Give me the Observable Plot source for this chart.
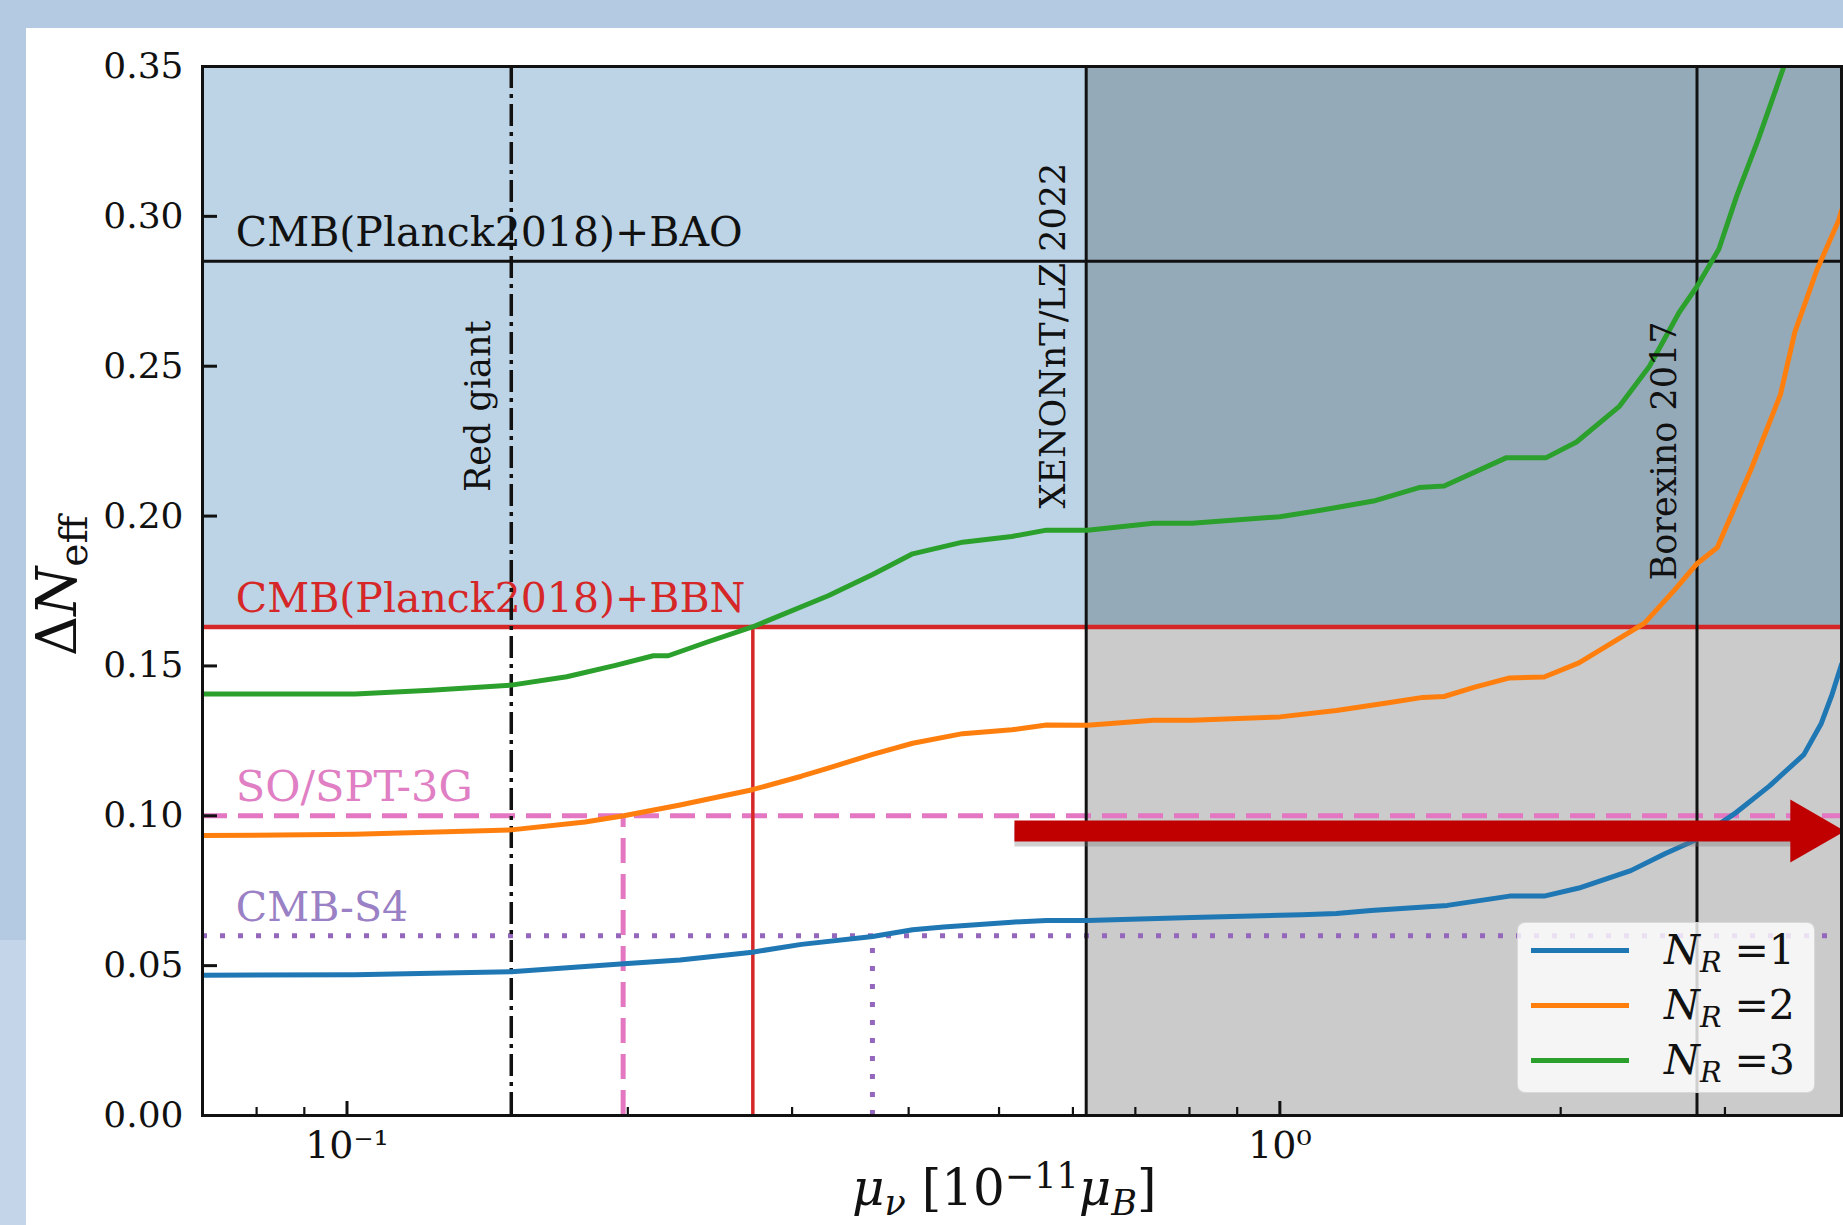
<!DOCTYPE html>
<html>
<head>
<meta charset="utf-8">
<script src="https://cdn.jsdelivr.net/npm/d3@7"></script>
<script src="https://cdn.jsdelivr.net/npm/@observablehq/plot@0.6"></script>
<style>
  html, body { margin:0; padding:0; }
  body { width:1843px; height:1225px; overflow:hidden; position:relative; background:#b4cae2; font-family:"DejaVu Serif", serif; }
  #stripLow { position:absolute; left:0; top:940px; width:26px; height:285px; background:#c4d5ea; }
  #card { position:absolute; left:26px; top:28px; width:1817px; height:1197px; background:#ffffff; }
  #chart { position:absolute; left:0; top:0; }
  #chart svg { display:block; overflow:visible; }
  .overlay { position:absolute; white-space:nowrap; color:#111; line-height:1; }
  #ylab { left:57px; top:586px; font-size:56px; transform: translate(-50%,-50%) rotate(-90deg); }
  #xlab { left:852px; top:1163px; font-size:50px; }
  sub { font-size:0.7em; vertical-align:-0.28em; line-height:0; }
  sup { font-size:0.7em; vertical-align:0.5em; line-height:0; }
  #legend { position:absolute; left:1517px; top:922px; width:298px; height:171px; background:rgba(255,255,255,0.8); border:1px solid rgba(210,210,210,0.8); border-radius:8px; box-sizing:border-box; }
  .row { position:absolute; left:0; width:298px; height:54px; }
  .sw { position:absolute; left:13px; top:24.5px; width:98px; height:5px; }
  .lab { position:absolute; left:146px; top:0; font-size:41px; line-height:54px; color:#111; white-space:nowrap; }
</style>
</head>
<body>
<div id="stripLow"></div>
<div id="card"></div>
<div id="chart"></div>
<div id="ylab" class="overlay">Δ<i>N</i><sub>eff</sub></div>
<div id="xlab" class="overlay"><i>μ</i><sub><i>ν</i></sub> [10<sup>−11</sup><i>μ</i><sub><i>B</i></sub>]</div>
<div id="legend"></div>
<script>
// ---------------- data ----------------
const series = ["N_R =1", "N_R =2", "N_R =3"];
const seriesNumber = ["1", "2", "3"];
const seriesColors = ["#1f77b4", "#ff7f0e", "#2ca02c"];

// N_R = 1 (blue)
const xN1 = [0.07, 0.102, 0.150, 0.198, 0.2275, 0.272, 0.307, 0.366, 0.404, 0.436, 0.516, 0.562, 0.622, 0.805, 1.0, 1.056, 1.15, 1.252, 1.512, 1.763, 1.92, 2.092, 2.378, 2.59, 2.797, 3.072, 3.347, 3.645, 3.805, 3.903, 4.0];
const yN1 = [0.0468, 0.0470, 0.0480, 0.0506, 0.0519, 0.0545, 0.0571, 0.0597, 0.0620, 0.0629, 0.0645, 0.0651, 0.0651, 0.0661, 0.0668, 0.0670, 0.0674, 0.0684, 0.0701, 0.0732, 0.0732, 0.0759, 0.0817, 0.0874, 0.0921, 0.1007, 0.1099, 0.1204, 0.1308, 0.1400, 0.1505];
// N_R = 2 (orange)
const xN2 = [0.07, 0.102, 0.150, 0.180, 0.198, 0.2275, 0.272, 0.307, 0.328, 0.366, 0.404, 0.457, 0.516, 0.562, 0.622, 0.732, 0.805, 1.0, 1.15, 1.307, 1.423, 1.50, 1.618, 1.763, 1.92, 2.092, 2.279, 2.46, 2.657, 2.797, 2.944, 3.201, 3.441, 3.565, 3.764, 3.973, 4.0];
const yN2 = [0.0934, 0.0938, 0.0953, 0.0979, 0.1000, 0.1036, 0.1087, 0.1132, 0.1159, 0.1205, 0.1242, 0.1274, 0.1287, 0.1303, 0.1302, 0.1319, 0.1319, 0.1330, 0.1351, 0.1377, 0.1395, 0.1398, 0.1429, 0.1460, 0.1463, 0.1510, 0.1580, 0.1643, 0.1758, 0.1840, 0.1895, 0.2157, 0.2406, 0.2614, 0.2821, 0.2987, 0.3020];
// N_R = 3 (green)
const xN3 = [0.07, 0.102, 0.123, 0.150, 0.172, 0.194, 0.213, 0.221, 0.243, 0.272, 0.328, 0.366, 0.404, 0.457, 0.516, 0.562, 0.622, 0.732, 0.805, 1.0, 1.11, 1.26, 1.41, 1.50, 1.75, 1.93, 2.08, 2.31, 2.49, 2.68, 2.80, 2.955, 3.09, 3.26, 3.47];
const yN3 = [0.1406, 0.1406, 0.1419, 0.1436, 0.1464, 0.1502, 0.1534, 0.1534, 0.1579, 0.1630, 0.1734, 0.1805, 0.1874, 0.1913, 0.1932, 0.1953, 0.1953, 0.1976, 0.1976, 0.1998, 0.2020, 0.2050, 0.2095, 0.2100, 0.2195, 0.2195, 0.2247, 0.2365, 0.2500, 0.2680, 0.2766, 0.2890, 0.3070, 0.3260, 0.3500];

const xDomain = [0.07, 4.0];
const yDomain = [0, 0.35];
const yTicks = [0, 0.05, 0.10, 0.15, 0.20, 0.25, 0.30, 0.35];
const xMajorTicks = [0.1, 1];
const xMajorLabels = ["10⁻¹", "10⁰"];
const xMinorTicks = [0.08, 0.09, 0.2, 0.3, 0.4, 0.5, 0.6, 0.7, 0.8, 0.9, 2, 3];

// laboratory / astrophysical bounds on mu_nu
const boundNames = ["Red giant", "XENONnT/LZ 2022", "Borexino 2017"];
const boundX = [0.15, 0.62, 2.8];
const boundLabelY = [0.208, 0.2025, 0.1785];

// cosmological Delta N_eff limits
const cosmoNames = ["CMB(Planck2018)+BAO", "CMB(Planck2018)+BBN", "SO/SPT-3G", "CMB-S4"];
const cosmoY = [0.285, 0.163, 0.10, 0.06];
const cosmoLabelX = 0.076;

// crossings: N_R=3 with BBN, N_R=2 with SO/SPT-3G, N_R=1 with CMB-S4
const crossX = [0.2723, 0.1977, 0.3658];
const crossY = [0.163, 0.10, 0.06];

// red annotation arrow (data units)
const arrowX = [0.52, 3.627];
const arrowHeadX = 3.687;
const arrowY = 0.0949;

// ---------------- styles ----------------
const cosmoStyles = [
  {stroke: "#111111", strokeWidth: 3, strokeDasharray: null},
  {stroke: "#d62728", strokeWidth: 4.5, strokeDasharray: null},
  {stroke: "#e377c2", strokeWidth: 5, strokeDasharray: "25 11"},
  {stroke: "#9467bd", strokeWidth: 5, strokeDasharray: "5 13"}
];
const cosmoLabelColors = ["#111111", "#d62728", "#e07fc4", "#9a80c4"];
const cosmoLabelSizes = [41, 41, 43, 41];
const crossStyles = [
  {stroke: "#d62728", strokeWidth: 3.5, strokeDasharray: null},
  {stroke: "#e377c2", strokeWidth: 5, strokeDasharray: "25 11"},
  {stroke: "#9467bd", strokeWidth: 5, strokeDasharray: "5 13"}
];

// ---------------- build ----------------
const xs = [xN1, xN2, xN3], ys = [yN1, yN2, yN3];
const rows = series.flatMap((s, i) => xs[i].map((x, j) => ({series: s, x, y: ys[i][j]})));
const boundRows = boundNames.map((name, i) => ({name, x: boundX[i], ly: boundLabelY[i]}));

const W = 1843, H = 1225, mL = 202, mR = 2, mT = 66, mB = 110;
const plotW = W - mL - mR, plotH = H - mT - mB;

const R = (x1, x2, y1, y2) => [{x1, x2, y1, y2}];
const marks = [
  Plot.rect(R(xDomain[0], boundX[1], cosmoY[1], yDomain[1]), {x1: "x1", x2: "x2", y1: "y1", y2: "y2", fill: "#bcd4e6"}),
  Plot.rect(R(boundX[1], xDomain[1], yDomain[0], cosmoY[1]), {x1: "x1", x2: "x2", y1: "y1", y2: "y2", fill: "#cbcbcb"}),
  Plot.rect(R(boundX[1], xDomain[1], cosmoY[1], yDomain[1]), {x1: "x1", x2: "x2", y1: "y1", y2: "y2", fill: "#95aab9"})
];

cosmoNames.forEach((name, i) => {
  marks.push(Plot.text([{x: cosmoLabelX, y: cosmoY[i], t: name}], {
    x: "x", y: "y", text: "t", fill: cosmoLabelColors[i], fontSize: cosmoLabelSizes[i],
    textAnchor: "start", lineAnchor: "bottom", dy: -15
  }));
});
cosmoNames.forEach((name, i) => {
  marks.push(Plot.ruleY([cosmoY[i]], cosmoStyles[i]));
});

marks.push(Plot.ruleX([boundX[0]], {stroke: "#111", strokeWidth: 3.5, strokeDasharray: "22 6 4 6"}));
marks.push(Plot.ruleX(boundX.slice(1), {stroke: "#111", strokeWidth: 3}));

crossX.forEach((cx, i) => {
  marks.push(Plot.ruleX([{x: cx, y: crossY[i]}], {x: "x", y1: () => yDomain[0], y2: "y", ...crossStyles[i]}));
});

marks.push(Plot.line(rows, {x: "x", y: "y", z: "series", stroke: "series", strokeWidth: 5, clip: true}));

marks.push(Plot.text(boundRows, {
  x: "x", y: "ly", text: "name", rotate: -90, textAnchor: "start", lineAnchor: "bottom",
  dx: -21, fontSize: 35, fill: "#111"
}));

// annotation arrow with soft shadow
const arrowRow = [{x1: arrowX[0], x2: arrowX[1], xh: arrowHeadX, y: arrowY}];
marks.push(Plot.ruleY(arrowRow, {y: "y", x1: "x1", x2: "x2", stroke: "#777", strokeOpacity: 0.35, strokeWidth: 21, dy: 5}));
marks.push(Plot.ruleY(arrowRow, {y: "y", x1: "x1", x2: "x2", stroke: "#c00000", strokeWidth: 21}));
marks.push(Plot.dot(arrowRow, {x: "xh", y: "y", symbol: "triangle", r: 23.4, rotate: 90, fill: "#c00000", stroke: "none"}));

// inward ticks
marks.push(Plot.ruleY(yTicks, {stroke: "#111", strokeWidth: 3, insetRight: plotW - 15}));
marks.push(Plot.ruleX(xMajorTicks, {stroke: "#111", strokeWidth: 3, insetTop: plotH - 14}));
marks.push(Plot.ruleX(xMinorTicks, {stroke: "#111", strokeWidth: 2.2, insetTop: plotH - 8}));

// tick labels
marks.push(Plot.axisY({ticks: yTicks, tickSize: 0, tickPadding: 19, tickFormat: d => d.toFixed(2), fontSize: 36, label: null}));
marks.push(Plot.axisX({ticks: xMajorTicks, tickSize: 0, tickPadding: 16, tickFormat: d => xMajorLabels[xMajorTicks.indexOf(d)], fontSize: 38, label: null}));

marks.push(Plot.frame({stroke: "#111", strokeWidth: 3}));

const chart = Plot.plot({
  width: W, height: H,
  marginLeft: mL, marginRight: mR, marginTop: mT, marginBottom: mB,
  style: {background: "transparent", fontFamily: "DejaVu Serif", color: "#111", overflow: "visible"},
  x: {type: "log", domain: xDomain},
  y: {domain: yDomain},
  color: {domain: series, range: seriesColors},
  marks
});
document.getElementById("chart").appendChild(chart);

// legend
const legend = document.getElementById("legend");
series.forEach((s, i) => {
  const row = document.createElement("div");
  row.className = "row";
  row.style.top = (i * 55) + "px";
  const sw = document.createElement("div");
  sw.className = "sw";
  sw.style.background = seriesColors[i];
  const lab = document.createElement("div");
  lab.className = "lab";
  lab.innerHTML = "<i>N</i><sub><i>R</i></sub>&nbsp;=" + seriesNumber[i];
  row.appendChild(sw);
  row.appendChild(lab);
  legend.appendChild(row);
});
</script>
</body>
</html>
